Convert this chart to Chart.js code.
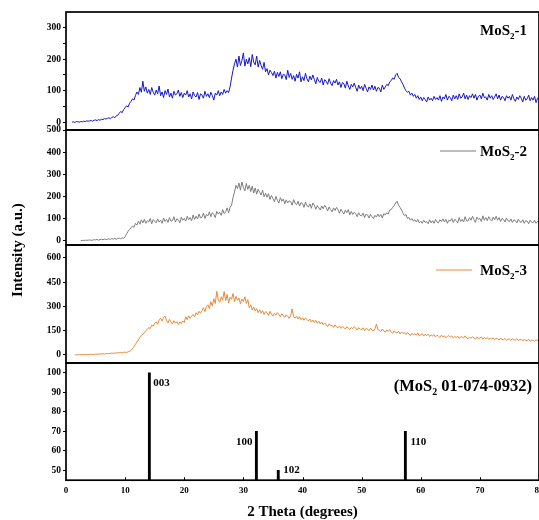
<!DOCTYPE html>
<html>
<head>
<meta charset="utf-8">
<script src="https://cdn.jsdelivr.net/npm/chart.js@4.4.1/dist/chart.umd.min.js"></script>
<style>
  html, body { margin: 0; padding: 0; background: #fff; overflow: hidden; }
  #wrap { position: relative; width: 539px; height: 520px; overflow: hidden; background: #fff; }
  canvas { position: absolute; left: 0; }
  #ytitle { position: absolute; width: 220px; left: -91px; top: 240px; height: 20px; line-height: 20px;
            text-align: center; transform: rotate(-90deg); font: bold 15px "Liberation Serif", "Times New Roman", serif; color: #000; }
</style>
</head>
<body>
<div id="wrap">
  <canvas id="c1" width="560" height="142" style="top:0px"></canvas>
  <canvas id="c2" width="560" height="139" style="top:118px"></canvas>
  <canvas id="c3" width="560" height="142" style="top:233px"></canvas>
  <canvas id="c4" width="560" height="174" style="top:351px"></canvas>
  <div id="ytitle">Intensity (a.u.)</div>
</div>
<script>
// ---------------- DATA ----------------
const STEP = 0.25;               // 2θ sampling step (degrees)
const start1 = 1.0;              // first 2θ of MoS2-1
const start2 = 2.5;              // first 2θ of MoS2-2
const start3 = 1.5;              // first 2θ of MoS2-3

const mos2_1 = [
  0,1,-1,2, 1,0,2,1, 3,2,4,3, 4,5,3,6, 7,5,8,6, 9,8,11,10, 12,14,11,15, 17,14,20,22,
  28,34,30,40, 46,52,48,60, 66,74,70,85, 96,88,110,95, 130,98,112,92, 104,88,110,95,
  86,102,90,115, 84,96,78,100, 88,105,80,92, 76,98,86,90, 102,82,94,78, 92,86,100,80,
  90,74,96,84, 80,94,72,90, 86,76,98,82, 90,78,95,84, 70,92,86,100, 84,96,88,104,
  92,100,94,112, 140,165,185,200, 175,210,180,195, 220,178,200,185, 205,176,215,190,
  182,210,175,196, 180,168,190,160, 170,150,165,158, 148,162,140,158, 145,160,138,152,
  150,135,165,142, 155,136,148,130, 152,140,160,128, 144,132,155,138, 128,146,134,150,
  136,122,142,130, 126,140,118,135, 130,120,138,124, 116,132,124,136, 118,128,110,126,
  122,108,130,115, 104,120,112,124, 110,98,118,106, 114,100,120,108, 96,112,104,118,
  102,114,98,110, 108,96,118,104, 112,120,116,128, 132,140,136,150, 155,142,138,128,
  120,108,100,95, 98,86,92,82, 88,76,84,72, 80,68,78,72, 64,80,70,76, 68,82,72,78,
  70,84,66,80, 74,88,70,82, 78,68,86,74, 84,72,90,76, 80,92,74,86, 72,84,78,90,
  76,88,70,82, 86,74,92,78, 80,70,88,76, 84,72,80,90, 74,86,70,82, 78,68,84,76,
  82,70,88,74, 66,80,72,84, 76,64,82,70, 74,86,68,78, 70,82,62,76, 72
];

const mos2_2 = [
  0,1, 0,2,1,2, 3,1,2,4, 3,5,2,4, 6,4,7,5, 6,8,5,9, 7,10,6,9, 11,8,13,10,
  18,30,42,50, 58,66,60,78, 70,88,74,94, 80,96,78,90, 84,100,76,95, 88,80,98,84,
  92,78,102,86, 96,82,104,88, 90,108,84,98, 94,80,106,92, 100,88,110,94, 104,90,116,96,
  110,98,120,102, 106,124,100,118, 112,130,108,126, 118,104,132,120, 128,114,140,122,
  130,148,126,150, 160,195,220,250, 235,260,228,265, 240,225,258,232, 250,222,246,215,
  238,210,232,218, 206,228,198,214, 196,212,186,204, 190,176,200,182, 170,194,178,188,
  166,184,170,180, 176,160,185,168, 162,178,156,172, 168,150,174,158, 152,166,146,170,
  160,142,158,148, 138,156,144,160, 150,134,152,140, 130,148,136,150, 140,124,142,130,
  120,138,126,140, 116,132,118,128, 122,108,126,114, 112,124,104,120, 116,102,118,108,
  100,114,106,120, 108,118,102,122, 116,126,120,138, 140,150,158,170, 178,160,150,138,
  124,112,118,100, 104,92,100,88, 94,84,96,80, 88,78,92,82, 86,76,94,80, 90,78,96,84,
  80,94,86,98, 84,96,78,92, 88,100,82,96, 90,80,104,86, 96,84,108,90, 88,104,92,110,
  94,82,106,96, 100,86,112,92, 104,90,108,96, 88,106,94,110, 92,104,86,100, 96,84,102,90,
  86,98,82,94, 90,80,96,86, 82,94,78,90, 88,76,92,84, 80,92,78,86, 84
];

const mos2_3 = [
  0,1, 0,1,2,1, 2,1,3,2, 3,4,2,4, 5,4,6,5, 6,7,5,8, 9,7,10,11, 10,12,11,14, 13,15,12,16,
  17,15,19,22, 28,40,52,66, 80,92,108,120, 126,138,150,158, 170,162,184,178, 196,204,190,218,
  226,210,232,240, 214,198,220,204, 192,212,196,206, 188,204,194,210, 200,236,218,242,
  226,240,250,236, 262,248,270,258, 276,292,268,300, 310,286,330,302, 348,318,394,340,
  326,360,338,392, 336,374,322,356, 344,380,330,362, 338,352,316,346, 330,360,318,342,
  292,310,278,296, 272,286,262,280, 258,274,250,268, 262,244,270,252, 240,258,246,262,
  250,236,254,242, 232,248,238,226, 244,284,236,228, 240,222,236,218, 230,214,228,220,
  210,222,204,216, 200,214,196,208, 192,204,186,198, 188,176,192,180, 182,170,186,174,
  168,178,164,176, 170,160,174,166, 158,170,162,174, 166,154,168,160, 156,168,150,164,
  160,150,166,154, 148,162,190,158, 152,144,160,148, 140,154,146,156, 142,134,150,138,
  136,146,130,142, 132,140,126,138, 128,120,134,124, 130,122,136,118, 124,132,116,128,
  120,128,114,124, 118,126,112,122, 116,108,122,112, 118,106,114,120, 110,118,104,114,
  108,116,102,112, 112,104,118,106, 100,110,104,112, 106,98,110,102, 104,112,98,106,
  100,108,96,104, 98,106,94,102, 100,92,104,96, 94,102,90,98, 98,90,100,94,
  92,100,88,96, 94,86,98,90, 88,96,84,92, 90,84,94,88, 90
];

// Reference pattern MoS2 (01-074-0932)
const refPos = [14.1, 32.2, 35.9, 57.4];
const refInt = [100, 70, 50, 70];
const refHkl = ['003', '100', '102', '110'];

// Tick values
const xTicks = [0, 10, 20, 30, 40, 50, 60, 70, 80];
const yTicks1 = [0, 50, 100, 150, 200, 250, 300];   // labelled every 100
const yTicks2 = [0, 100, 200, 300, 400, 500];
const yTicks3 = [0, 150, 300, 450, 600];
const yTicks4 = [50, 60, 70, 80, 90, 100];

// ---------------- HELPERS ----------------
function toPoints(start, arr) {
  return arr.map((v, i) => ({ x: start + i * STEP, y: v }));
}
const SERIF = '"Liberation Serif", "Times New Roman", serif';

function drawChem(ctx, parts, x, y, size, align) {
  ctx.save();
  ctx.textBaseline = 'alphabetic';
  ctx.textAlign = 'left';
  let w = 0;
  const widths = parts.map(([t, sub]) => {
    ctx.font = 'bold ' + (sub ? Math.round(size * 0.62) : size) + 'px ' + SERIF;
    const m = ctx.measureText(t).width;
    w += m;
    return m;
  });
  let cx = align === 'right' ? x - w : x;
  parts.forEach(([t, sub], i) => {
    ctx.font = 'bold ' + (sub ? Math.round(size * 0.62) : size) + 'px ' + SERIF;
    ctx.fillStyle = '#000';
    ctx.fillText(t, cx, sub ? y + size * 0.25 : y);
    cx += widths[i];
  });
  ctx.restore();
  return w;
}

const framePlugin = {
  id: 'frame',
  afterDraw(chart) {
    const { ctx, chartArea: a } = chart;
    ctx.save();
    ctx.strokeStyle = '#000';
    ctx.lineWidth = 1.7;
    ctx.strokeRect(a.left, a.top, a.right - a.left, a.bottom - a.top);
    ctx.restore();
  }
};

function yScale(min, max, tickList, labelEvery) {
  return {
    min, max,
    afterFit(scale) { scale.width = 66; },
    afterBuildTicks(scale) { scale.ticks = tickList.map(v => ({ value: v })); },
    border: { display: false },
    grid: { drawOnChartArea: false, drawTicks: true, tickLength: 3, color: '#000', lineWidth: 1 },
    ticks: {
      padding: 2, color: '#000', autoSkip: false,
      font: { family: SERIF, size: 9.5, weight: 'bold' },
      callback: (v) => (v % labelEvery === 0 ? String(v) : '')
    }
  };
}
function xHidden() {
  return { type: 'linear', min: 0, max: 80, display: false, offset: false };
}

const baseOpts = (yCfg) => ({
  responsive: false,
  animation: false,
  devicePixelRatio: 1,
  layout: { padding: { left: 0, right: 21, top: 12, bottom: 12 } },
  plugins: { legend: { display: false }, tooltip: { enabled: false } },
  scales: { x: xHidden(), y: yCfg }
});

function lineDs(label, start, arr, color) {
  return {
    label, data: toPoints(start, arr), borderColor: color, backgroundColor: color,
    borderWidth: 1, pointRadius: 0, tension: 0, fill: false
  };
}

const COL1 = '#1616c8', COL2 = '#7d7d7d', COL3 = '#e8893a';

// ---------------- PANEL 1 ----------------
new Chart(document.getElementById('c1'), {
  type: 'line',
  data: { datasets: [lineDs('MoS2-1', start1, mos2_1, COL1)] },
  options: baseOpts(yScale(-25, 350, yTicks1, 100)),
  plugins: [framePlugin, {
    id: 'lab1',
    afterDraw(chart) {
      const a = chart.chartArea;
      drawChem(chart.ctx, [['MoS', false], ['2', true], ['-1', false]], a.right - 12, a.top + 23, 15, 'right');
    }
  }]
});

// ---------------- PANEL 2 ----------------
new Chart(document.getElementById('c2'), {
  type: 'line',
  data: { datasets: [lineDs('MoS2-2', start2, mos2_2, COL2)] },
  options: baseOpts(yScale(-20, 500, yTicks2, 100)),
  plugins: [framePlugin, {
    id: 'lab2',
    afterDraw(chart) {
      const a = chart.chartArea, ctx = chart.ctx;
      const y = a.top + 21;
      ctx.save(); ctx.strokeStyle = COL2; ctx.lineWidth = 1;
      ctx.beginPath(); ctx.moveTo(a.right - 99, y); ctx.lineTo(a.right - 63, y); ctx.stroke(); ctx.restore();
      drawChem(ctx, [['MoS', false], ['2', true], ['-2', false]], a.right - 12, y + 5, 15, 'right');
    }
  }]
});

// ---------------- PANEL 3 ----------------
new Chart(document.getElementById('c3'), {
  type: 'line',
  data: { datasets: [lineDs('MoS2-3', start3, mos2_3, COL3)] },
  options: baseOpts(yScale(-50, 680, yTicks3, 150)),
  plugins: [framePlugin, {
    id: 'lab3',
    afterDraw(chart) {
      const a = chart.chartArea, ctx = chart.ctx;
      const y = a.top + 25;
      ctx.save(); ctx.strokeStyle = COL3; ctx.lineWidth = 1;
      ctx.beginPath(); ctx.moveTo(a.right - 103, y); ctx.lineTo(a.right - 67, y); ctx.stroke(); ctx.restore();
      drawChem(ctx, [['MoS', false], ['2', true], ['-3', false]], a.right - 12, y + 5, 15, 'right');
    }
  }]
});

// ---------------- PANEL 4 (reference sticks) ----------------
const o4 = baseOpts(yScale(45, 105, yTicks4, 10));
o4.layout.padding.bottom = 2;
o4.scales.x = {
  type: 'linear', min: 0, max: 80, offset: false,
  afterBuildTicks(scale) { scale.ticks = xTicks.map(v => ({ value: v })); },
  border: { display: false },
  grid: { drawOnChartArea: false, drawTicks: false },
  ticks: { padding: 5, color: '#000', font: { family: SERIF, size: 9, weight: 'bold' }, maxRotation: 0, autoSkip: false },
  title: { display: true, text: '2 Theta (degrees)', color: '#000', padding: { top: 2, bottom: 2 },
           font: { family: SERIF, size: 15, weight: 'bold' } }
};
new Chart(document.getElementById('c4'), {
  type: 'bar',
  data: {
    datasets: [{
      label: 'MoS2 01-074-0932',
      data: refPos.map((p, i) => ({ x: p, y: refInt[i] })),
      backgroundColor: '#000', borderWidth: 0, barThickness: 2.2
    }]
  },
  options: o4,
  plugins: [framePlugin, {
    id: 'lab4',
    afterDraw(chart) {
      const a = chart.chartArea, ctx = chart.ctx;
      const xs = chart.scales.x, ys = chart.scales.y;
      // inward x ticks
      ctx.save(); ctx.strokeStyle = '#000'; ctx.lineWidth = 1;
      xTicks.slice(1, -1).forEach(v => {
        const px = Math.round(xs.getPixelForValue(v)) + 0.5;
        ctx.beginPath(); ctx.moveTo(px, a.bottom); ctx.lineTo(px, a.bottom - 3); ctx.stroke();
      });
      ctx.restore();
      // hkl labels
      ctx.save();
      ctx.font = 'bold 11px ' + SERIF; ctx.fillStyle = '#000'; ctx.textBaseline = 'middle';
      const offs = [[4, 10, 'left'], [-4, 11, 'right'], [5, 0, 'left'], [5, 11, 'left']];
      refPos.forEach((p, i) => {
        const px = xs.getPixelForValue(p), py = ys.getPixelForValue(refInt[i]);
        ctx.textAlign = offs[i][2];
        ctx.fillText(refHkl[i], px + offs[i][0], py + offs[i][1]);
      });
      ctx.restore();
      drawChem(ctx, [['(MoS', false], ['2', true], [' 01-074-0932)', false]], a.right - 7, a.top + 28, 16.5, 'right');
    }
  }]
});
</script>
</body>
</html>
